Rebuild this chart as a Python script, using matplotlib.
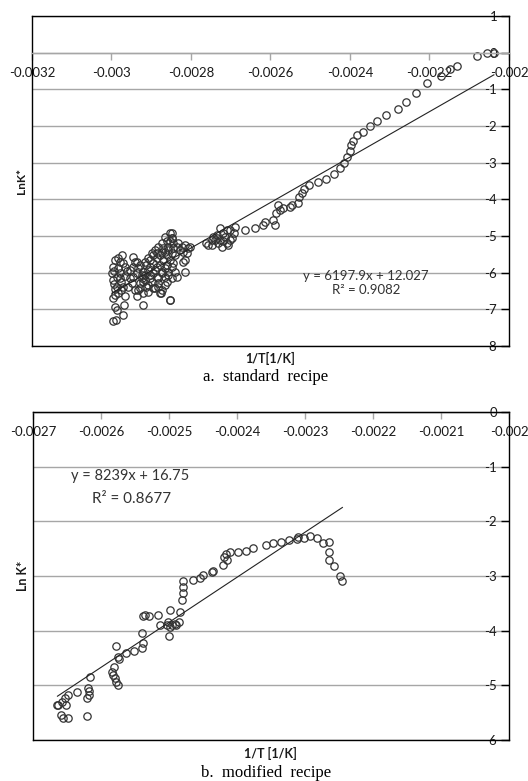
import matplotlib
matplotlib.use("Agg")
import matplotlib.pyplot as plt
import numpy as np

plt.rcParams["font.family"] = ["Lato", "DejaVu Sans"]

# ---- a. standard recipe: 1/T [1/K] vs LnK* ----
inv_t_a = [
    # upper branch
    -0.002038, -0.002056, -0.002081, -0.002130, -0.002148, -0.002172, -0.002206,
    -0.002235, -0.002260, -0.002279, -0.002309, -0.002333, -0.002350, -0.002367,
    -0.002382, -0.002392, -0.002397, -0.002400, -0.002408, -0.002415, -0.002424,
    -0.002440, -0.002461, -0.002481, -0.002503, -0.002516, -0.002520, -0.002528,
    -0.002530, -0.002547, -0.002551, -0.002568, -0.002576, -0.002580, -0.002585,
    -0.002589, -0.002593, -0.002614, -0.002618, -0.002639,
    # middle cluster
    -0.002664, -0.002689, -0.002693, -0.002698, -0.002702, -0.002706, -0.002710,
    -0.002714, -0.002719, -0.002723, -0.002727, -0.002731, -0.002735, -0.002740,
    -0.002744, -0.002748, -0.002756, -0.002761, -0.002735, -0.002719, -0.002702,
    -0.002748, -0.002727, -0.002710,
    # bridge
    -0.002803, -0.002807, -0.002811, -0.002815, -0.002815, -0.002815, -0.002819,
    -0.002819, -0.002823, -0.002828, -0.002832,
    # main blob
    -0.002853, -0.002849, -0.002861, -0.002874, -0.002870, -0.002882, -0.002891,
    -0.002899, -0.002857, -0.002845, -0.002849, -0.002861, -0.002878, -0.002886,
    -0.002870, -0.002853, -0.002903, -0.002895, -0.002878, -0.002861, -0.002845,
    -0.002912, -0.002907, -0.002891, -0.002874, -0.002857, -0.002840, -0.002920,
    -0.002924, -0.002903, -0.002886, -0.002866, -0.002849, -0.002916, -0.002899,
    -0.002882, -0.002861, -0.002928, -0.002912, -0.002891, -0.002874, -0.002878,
    -0.002853, -0.002882, -0.002866, -0.002933, -0.002920, -0.002920, -0.002907,
    -0.002945, -0.002937, -0.002954, -0.002945, -0.002933, -0.002949, -0.002941,
    -0.002958, -0.002937, -0.002954, -0.002853, -0.002866, -0.002874, -0.002840,
    -0.002836, -0.002876, -0.002853, -0.002848, -0.002848,
    -0.002895, -0.002886, -0.002866, -0.002857, -0.002845, -0.002836, -0.002907,
    -0.002916, -0.002928, -0.002903, -0.002886, -0.002866, -0.002849, -0.002874,
    -0.002895, -0.002916, -0.002857, -0.002903, -0.002882, -0.002924, -0.002937,
    -0.002945, -0.002941, -0.002907, -0.002928, -0.002895, -0.002920,
    # left column
    -0.002997, -0.002989, -0.002972, -0.002987, -0.002969, -0.002995, -0.002966,
    -0.002983, -0.002987, -0.002970, -0.002995, -0.002999, -0.002979, -0.002983,
    -0.002995, -0.002966, -0.002979, -0.002991, -0.002974, -0.002991, -0.002975,
    -0.002990, -0.002965, -0.002985, -0.002983, -0.002970, -0.002993, -0.002978,
    -0.002993, -0.002975, -0.002990, -0.002962,
]
lnk_a = [
    -0.02, 0.00, -0.09, -0.35, -0.45, -0.64, -0.84,
    -1.09, -1.35, -1.53, -1.71, -1.87, -2.00, -2.15,
    -2.25, -2.40, -2.53, -2.67, -2.84, -3.00, -3.15,
    -3.31, -3.44, -3.52, -3.61, -3.73, -3.82, -3.93,
    -4.11, -4.15, -4.20, -4.25, -4.29, -4.15, -4.38,
    -4.70, -4.56, -4.61, -4.70, -4.79,
    -4.84, -4.75, -4.93, -5.06, -4.84, -5.24, -4.84,
    -5.02, -5.15, -5.29, -4.79, -5.20, -4.97, -5.11,
    -5.02, -5.24, -5.24, -5.20, -5.06, -4.93, -5.11,
    -5.11, -5.11, -5.20,
    -5.29, -5.34, -5.47, -5.24, -5.65, -5.97, -5.43,
    -5.70, -5.29, -5.38, -5.20,
    -4.93, -5.06, -5.15, -5.20, -5.34, -5.29, -5.38,
    -5.47, -5.38, -5.34, -5.47, -5.52, -5.52, -5.61,
    -5.65, -5.65, -5.65, -5.74, -5.79, -5.79, -5.74,
    -5.79, -5.93, -5.93, -5.97, -5.97, -5.97, -5.97,
    -6.06, -6.06, -6.11, -6.11, -6.15, -6.20, -6.25,
    -6.29, -6.25, -6.29, -6.38, -6.43, -6.47, -6.56,
    -6.74, -6.38, -6.34, -6.47, -6.56, -6.88, -6.52,
    -5.56, -5.70, -5.93, -6.11, -5.88, -6.29, -6.47,
    -6.38, -6.65, -6.15, -5.15, -5.02, -5.43, -5.52,
    -6.11, -6.56, -6.74, -4.93, -5.06,
    -5.52, -5.47, -5.43, -5.29, -5.20, -5.29, -5.61,
    -5.70, -5.79, -5.84, -5.84, -5.88, -5.84, -6.02,
    -6.02, -6.06, -6.06, -6.15, -6.15, -6.15, -6.02,
    -5.84, -5.70, -6.34, -6.43, -6.43, -6.25,
    -7.31, -7.29, -7.15, -7.02, -6.88, -6.70, -6.65,
    -6.56, -6.38, -6.38, -6.20, -6.02, -6.02, -5.88,
    -5.84, -5.84, -5.70, -5.65, -5.52, -6.93, -6.25,
    -6.45, -6.10, -6.12, -5.60, -5.75, -5.95, -6.15,
    -6.30, -6.48, -6.60, -5.95,
]
slope_a, intercept_a = 6197.9, 12.027
xticks_a = [-0.0032, -0.0030, -0.0028, -0.0026, -0.0024, -0.0022, -0.0020]
xlabels_a = ["-0.0032", "-0.003", "-0.0028", "-0.0026", "-0.0024", "-0.0022", "-0.002"]
yticks_a = [1, 0, -1, -2, -3, -4, -5, -6, -7, -8]

# ---- b. modified recipe ----
inv_t_b = [
    -0.002664, -0.002663, -0.002658, -0.002653, -0.002648, -0.002651, -0.002636,
    -0.002659, -0.002656, -0.002648, -0.002621, -0.002616, -0.002619, -0.002617,
    -0.002620, -0.002618,
    -0.002584, -0.002583, -0.002580, -0.002575, -0.002578, -0.002581, -0.002578,
    -0.002575, -0.002573, -0.002563, -0.002552, -0.002540, -0.002538, -0.002539,
    -0.002535, -0.002538, -0.002530, -0.002516, -0.002513,
    -0.002499, -0.002501, -0.002496, -0.002491, -0.002503, -0.002499, -0.002489,
    -0.002486, -0.002500, -0.002484, -0.002481, -0.002480, -0.002479, -0.002479,
    -0.002464, -0.002454, -0.002450, -0.002437,
    -0.002436, -0.002421, -0.002415, -0.002419, -0.002416, -0.002410, -0.002398,
    -0.002387, -0.002377, -0.002358, -0.002347, -0.002335, -0.002324, -0.002312,
    -0.002310, -0.002302, -0.002293, -0.002283, -0.002274, -0.002264, -0.002264,
    -0.002264, -0.002257, -0.002249, -0.002245,
]
lnk_b = [
    -5.36, -5.36, -5.30, -5.24, -5.18, -5.36, -5.12,
    -5.54, -5.60, -5.60, -5.57, -4.84, -5.05, -5.18,
    -5.24, -5.11,
    -4.75, -4.81, -4.87, -4.99, -4.93, -4.66, -4.28,
    -4.48, -4.52, -4.41, -4.38, -4.31, -4.23, -4.05,
    -3.71, -3.74, -3.74, -3.71, -3.90,
    -3.62, -3.84, -3.90, -3.87, -3.90, -3.93, -3.90,
    -3.84, -4.10, -3.65, -3.44, -3.32, -3.20, -3.10,
    -3.07, -3.04, -2.98, -2.92,
    -2.90, -2.80, -2.70, -2.65, -2.60, -2.56, -2.57,
    -2.54, -2.49, -2.44, -2.39, -2.37, -2.34, -2.33,
    -2.29, -2.31, -2.26, -2.31, -2.39, -2.37, -2.56,
    -2.70, -2.82, -3.00, -3.10,
]
slope_b, intercept_b = 8239.0, 16.75
xticks_b = [-0.0027, -0.0026, -0.0025, -0.0024, -0.0023, -0.0022, -0.0021, -0.0020]
xlabels_b = ["-0.0027", "-0.0026", "-0.0025", "-0.0024", "-0.0023", "-0.0022", "-0.0021", "-0.002"]
yticks_b = [0, -1, -2, -3, -4, -5, -6]

GRID = "#a6a6a6"
TEXT = "#1a1a1a"


def draw_panel(ax, x, y, slope, intercept, xticks, xlabels, yticks):
    ax.set_xlim(xticks[0], xticks[-1])
    ax.set_ylim(min(yticks), max(yticks))

    ax.plot(x, y, linestyle="none", marker="o", markersize=5.3,
            markerfacecolor="none", markeredgecolor="#333333",
            markeredgewidth=0.9, zorder=2)
    xs = np.array([min(x), max(x)])
    ax.plot(xs, slope * xs + intercept, color="#222222", lw=0.8, zorder=3)

    # horizontal axis crosses at y = 0, vertical axis crosses at the right edge
    ax.spines["bottom"].set_position(("data", 0))
    ax.spines["bottom"].set_color(GRID)
    ax.spines["bottom"].set_linewidth(1.0)
    ax.spines["left"].set_position(("axes", 1.0))
    ax.spines["right"].set_position(("axes", 0.0))
    for s in ("left", "right", "top"):
        ax.spines[s].set_color("black")
        ax.spines[s].set_linewidth(1.0)
    ax.plot([0, 1], [0, 0], transform=ax.transAxes, color="black", lw=1.0,
            clip_on=False, zorder=4)

    ax.xaxis.set_ticks_position("bottom")
    ax.yaxis.set_ticks_position("left")
    ax.set_xticks(xticks)
    ax.set_xticklabels(xlabels)
    ax.set_yticks(yticks)
    ax.set_yticklabels([str(v) for v in yticks])
    ax.tick_params(axis="x", direction="out", length=5, width=1.0, color=GRID,
                   pad=5, labelsize=9.5, labelcolor=TEXT)
    ax.tick_params(axis="y", direction="out", length=6, width=1.0, color="black",
                   pad=2.5, labelsize=9.5, labelcolor=TEXT)
    ax.yaxis.grid(True, color=GRID, lw=1.0)
    ax.set_axisbelow(True)


fig = plt.figure(figsize=(5.28, 7.81), dpi=100)

ax1 = fig.add_axes([0.0606, 0.557, 0.9034, 0.4225])
draw_panel(ax1, inv_t_a, lnk_a, slope_a, intercept_a, xticks_a, xlabels_a, yticks_a)
ax1.text(0.70, 0.19, "y = 6197.9x + 12.027\nR\u00b2 = 0.9082", transform=ax1.transAxes,
         ha="center", va="center", fontsize=9.5, color="#333333", linespacing=1.2)
ax1.text(-0.021, 0.5, "LnK*", transform=ax1.transAxes, rotation=90,
         ha="center", va="center", fontsize=8.5, fontweight="bold", color=TEXT)
ax1.text(0.499, -0.039, "1/T[1/K]", transform=ax1.transAxes,
         ha="center", va="center", fontsize=9, fontweight="bold", color=TEXT)
ax1.text(0.49, -0.095, "a.  standard  recipe", transform=ax1.transAxes,
         ha="center", va="center", fontsize=12, family="Liberation Serif", color="black")

ax2 = fig.add_axes([0.0625, 0.0525, 0.9015, 0.42])
draw_panel(ax2, inv_t_b, lnk_b, slope_b, intercept_b, xticks_b, xlabels_b, yticks_b)
ax2.text(0.08, 0.805, "y = 8239x + 16.75", transform=ax2.transAxes,
         ha="left", va="center", fontsize=10.5, color="#333333")
ax2.text(0.125, 0.735, "R\u00b2 = 0.8677", transform=ax2.transAxes,
         ha="left", va="center", fontsize=11, color="#333333")
ax2.text(-0.021, 0.5, "Ln K*", transform=ax2.transAxes, rotation=90,
         ha="center", va="center", fontsize=9, fontweight="bold", color=TEXT)
ax2.text(0.499, -0.04, "1/T [1/K]", transform=ax2.transAxes,
         ha="center", va="center", fontsize=9, fontweight="bold", color=TEXT)
ax2.text(0.49, -0.1, "b.  modified  recipe", transform=ax2.transAxes,
         ha="center", va="center", fontsize=12, family="Liberation Serif", color="black")

fig.savefig("out.png", dpi=100)
